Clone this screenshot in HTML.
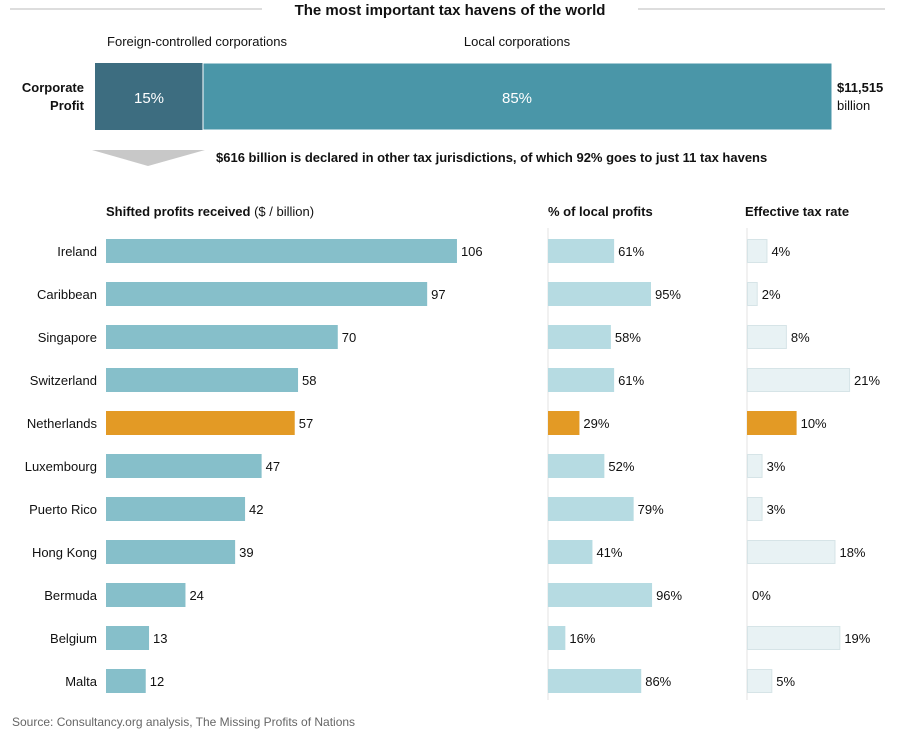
<!DOCTYPE html>
<html><head><meta charset="utf-8"><style>
body{margin:0;background:#fff;font-family:"Liberation Sans",sans-serif;}
svg text{font-family:"Liberation Sans",sans-serif;fill:#111;}
</style></head><body>
<svg width="900" height="734" viewBox="0 0 900 734">
<line x1="10" y1="9" x2="262" y2="9" stroke="#bbb"/>
<line x1="638" y1="9" x2="885" y2="9" stroke="#bbb"/>
<text x="450" y="15" text-anchor="middle" font-size="15" font-weight="bold">The most important tax havens of the world</text>
<text x="197" y="46" text-anchor="middle" font-size="13">Foreign-controlled corporations</text>
<text x="517" y="46" text-anchor="middle" font-size="13">Local corporations</text>
<text x="84" y="92" text-anchor="end" font-size="13" font-weight="bold">Corporate</text>
<text x="84" y="110" text-anchor="end" font-size="13" font-weight="bold">Profit</text>
<rect x="95" y="63" width="108" height="67" fill="#3d6d80"/>
<rect x="203" y="63" width="629" height="67" fill="#4a96a8" stroke="#fff" stroke-width="1"/>
<text x="149" y="103" text-anchor="middle" font-size="15" style="fill:#fff">15%</text>
<text x="517" y="103" text-anchor="middle" font-size="15" style="fill:#fff">85%</text>
<text x="837" y="92" font-size="13" font-weight="bold">$11,515</text>
<text x="837" y="110" font-size="13">billion</text>
<polygon points="92,150 205,150 148,166" fill="#c8c8c8"/>
<text x="216" y="162" font-size="13" font-weight="bold">$616 billion is declared in other tax jurisdictions, of which 92% goes to just 11 tax havens</text>
<text x="106" y="216" font-size="13" font-weight="bold">Shifted profits received <tspan font-weight="normal">($ / billion)</tspan></text>
<text x="548" y="216" font-size="13" font-weight="bold">% of local profits</text>
<text x="745" y="216" font-size="13" font-weight="bold">Effective tax rate</text>
<line x1="548" y1="228" x2="548" y2="700" stroke="#e3e3e3"/>
<line x1="747" y1="228" x2="747" y2="700" stroke="#e3e3e3"/>
<g id="bars"></g>
<text x="12" y="726" font-size="12" style="fill:#666">Source: Consultancy.org analysis, The Missing Profits of Nations</text>
</svg>
<script>
const countries=["Ireland","Caribbean","Singapore","Switzerland","Netherlands","Luxembourg","Puerto Rico","Hong Kong","Bermuda","Belgium","Malta"];
const shifted=[106,97,70,58,57,47,42,39,24,13,12];
const localPct=[61,95,58,61,29,52,79,41,96,16,86];
const taxRate=[4,2,8,21,10,3,3,18,0,19,5];
const highlight="Netherlands";
const NS="http://www.w3.org/2000/svg";
const g=document.getElementById('bars');
const rowY=i=>251+i*43;
const xS=v=>v*3.311, xP=v=>v*1.084, xT=v=>v*4.86;
function mk(t,a){const e=document.createElementNS(NS,t);for(const k in a)e.setAttribute(k,a[k]);g.appendChild(e);return e;}
countries.forEach((c,i)=>{
  const y=rowY(i), hl=c===highlight;
  let t=mk('text',{x:97,y:y+5,'text-anchor':'end','font-size':13});t.textContent=c;
  
  
  let r=mk('rect',{x:106,y:y-12,width:xS(shifted[i]),height:24,fill:hl?'#e39a25':'#86bfca'});
  
  
  t=mk('text',{x:106+xS(shifted[i])+4,y:y+5,'font-size':13});t.textContent=shifted[i];
  
  
  r=mk('rect',{x:548,y:y-12,width:xP(localPct[i]),height:24,fill:hl?'#e39a25':'#b6dbe2'});
  
  
  t=mk('text',{x:548+xP(localPct[i])+4,y:y+5,'font-size':13});t.textContent=localPct[i]+'%';
  
  
  if(taxRate[i]>0){
    r=mk('rect',{x:747.5,y:y-11.5,width:xT(taxRate[i]),height:23,fill:hl?'#e39a25':'#e8f2f4',stroke:hl?'#e39a25':'#d6e4e7'});
    
    
  }
  t=mk('text',{x:747+xT(taxRate[i])+5,y:y+5,'font-size':13});t.textContent=taxRate[i]+'%';
  
  
});
</script>
</body></html>
